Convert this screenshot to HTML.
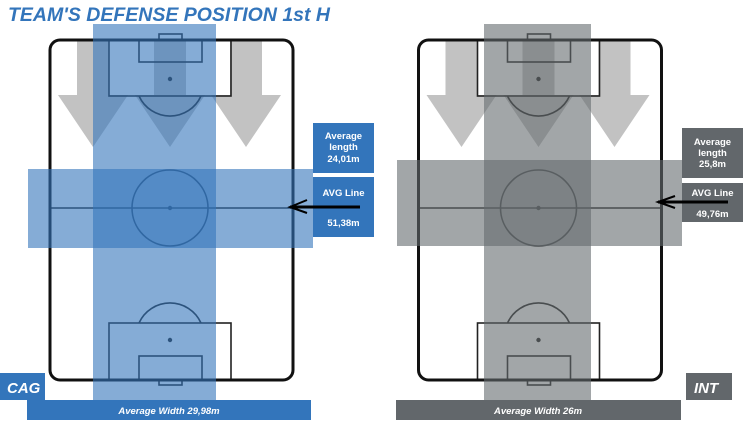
<!DOCTYPE html>
<html><head><meta charset="utf-8"><style>
html,body{margin:0;padding:0;background:#fff;}
svg{display:block;font-family:"Liberation Sans",sans-serif;}
</style></head><body>
<svg width="753" height="428" viewBox="0 0 753 428" xmlns="http://www.w3.org/2000/svg">
<defs>
<g id="pitch">
  <g fill="#c2c2c2">
    <polygon points="77,40 109,40 109,95 128,95 93,147 58,95 77,95"/>
    <polygon points="154,40 186,40 186,95 205,95 170,147 135,95 154,95"/>
    <polygon points="230,40 262,40 262,95 281,95 246,147 211,95 230,95"/>
  </g>
  <g fill="none" stroke="#222" stroke-width="1.6">
    <rect x="109" y="40" width="122" height="56"/>
    <rect x="139" y="40" width="63" height="22"/>
    <rect x="159" y="34" width="23" height="6"/>
    <path d="M139,96 A34,34 0 0 0 201,96"/>
    <line x1="50" y1="208" x2="293" y2="208"/>
    <circle cx="170" cy="208" r="38"/>
    <rect x="109" y="323" width="122" height="57"/>
    <rect x="139" y="356" width="63" height="24"/>
    <rect x="159" y="380" width="23" height="5"/>
    <path d="M139,323 A34,34 0 0 1 201,323"/>
  </g>
  <g fill="#222"><circle cx="170" cy="79" r="2.2"/><circle cx="170" cy="208" r="2.2"/><circle cx="170" cy="340" r="2.2"/></g>
  <rect x="50" y="40" width="243" height="340" rx="10" fill="none" stroke="#111" stroke-width="3"/>
</g>
</defs>

<text x="8" y="21" font-size="19" font-weight="bold" font-style="italic" fill="#3375bb" textLength="322" lengthAdjust="spacingAndGlyphs">TEAM'S DEFENSE POSITION 1st H</text>

<use href="#pitch"/>
<rect x="93" y="24" width="123" height="376" fill="#3375bb" fill-opacity="0.6"/>
<rect x="28" y="169" width="285" height="79" fill="#3375bb" fill-opacity="0.6"/>
<rect x="313" y="123" width="61" height="50" fill="#3375bb"/>
<rect x="313" y="177" width="61" height="60" fill="#3375bb"/>
<g fill="#fff" font-size="9.5" font-weight="bold" text-anchor="middle">
  <text x="343.5" y="139">Average</text><text x="343.5" y="150">length</text><text x="343.5" y="162">24,01m</text>
  <text x="343.5" y="196">AVG Line</text><text x="343.5" y="226">51,38m</text>
</g>
<g stroke="#000" stroke-width="3" fill="none"><line x1="360" y1="207" x2="290" y2="207"/><polyline points="307,200 290,207 307,213" stroke-width="2"/></g>
<rect x="0" y="373" width="45" height="27" fill="#3375bb"/>
<text x="7" y="393" font-size="15" font-weight="bold" font-style="italic" fill="#fff">CAG</text>
<rect x="27" y="400" width="284" height="20" fill="#3375bb"/>
<text x="169" y="414" font-size="9.5" font-weight="bold" font-style="italic" fill="#fff" text-anchor="middle">Average Width 29,98m</text>

<use href="#pitch" transform="translate(368.5,0)"/>
<rect x="484" y="24" width="107" height="376" fill="#646a6e" fill-opacity="0.6"/>
<rect x="397" y="160" width="285" height="86" fill="#646a6e" fill-opacity="0.6"/>
<rect x="682" y="128" width="61" height="50" fill="#62676b"/>
<rect x="682" y="183" width="61" height="39" fill="#62676b"/>
<g fill="#fff" font-size="9.5" font-weight="bold" text-anchor="middle">
  <text x="712.5" y="145">Average</text><text x="712.5" y="156">length</text><text x="712.5" y="167">25,8m</text>
  <text x="712.5" y="196">AVG Line</text><text x="712.5" y="217">49,76m</text>
</g>
<g stroke="#000" stroke-width="3" fill="none"><line x1="728" y1="202" x2="658" y2="202"/><polyline points="675,196 658,202 675,208" stroke-width="2"/></g>
<rect x="686" y="373" width="46" height="27" fill="#62676b"/>
<text x="694" y="393" font-size="15" font-weight="bold" font-style="italic" fill="#fff">INT</text>
<rect x="396" y="400" width="285" height="20" fill="#62676b"/>
<text x="538" y="414" font-size="9.5" font-weight="bold" font-style="italic" fill="#fff" text-anchor="middle">Average Width 26m</text>
</svg>
</body></html>
